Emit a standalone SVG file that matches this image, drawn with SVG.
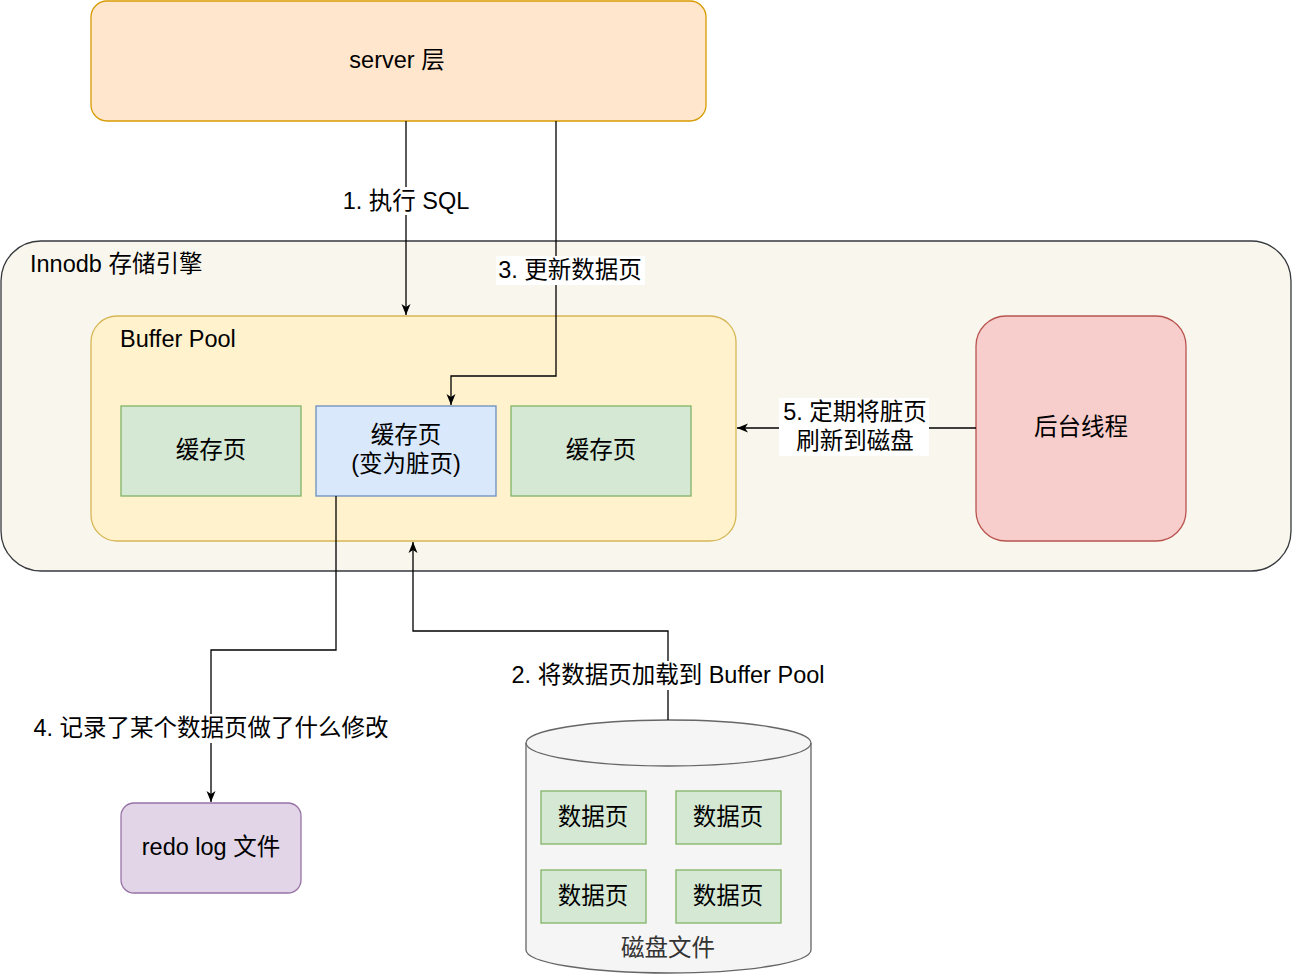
<svg xmlns="http://www.w3.org/2000/svg" width="1292" height="977" viewBox="0 0 1292 977">
<style>
text{font-family:"Liberation Sans","Noto Sans CJK SC",sans-serif;font-size:23.5px;fill:#000;dominant-baseline:central}
.c{text-anchor:middle}
.e{fill:none;stroke:#000;stroke-width:1.3}
.lb{fill:#fff}
.pg{fill:#d5e8d4;stroke:#82b366;stroke-width:1.3}
</style>
<defs>
<marker id="a" markerUnits="userSpaceOnUse" markerWidth="12" markerHeight="12" viewBox="0 0 12 12" refX="11" refY="6" orient="auto">
<path d="M0,1.5 L11,6 L0,10.5 L3,6 Z" fill="#000"/>
</marker>
</defs>
<rect width="1292" height="977" fill="#fff"/>
<g id="innodb">
<rect x="1" y="241" width="1290" height="330" rx="40" fill="#f9f7ed" stroke="#36393d" stroke-width="1.3"/>
<text x="30" y="264">Innodb 存储引擎</text>
</g>
<g id="server">
<rect x="91" y="1" width="615" height="120" rx="16" fill="#ffe6cc" stroke="#d79b00" stroke-width="1.3"/>
<text class="c" x="397" y="60">server 层</text>
</g>
<g id="bufferpool">
<rect x="91" y="316" width="645" height="225" rx="26" fill="#fff2cc" stroke="#d6b656" stroke-width="1.3"/>
<text x="120" y="339">Buffer Pool</text>
</g>
<g id="page1">
<rect class="pg" x="121" y="406" width="180" height="90"/>
<text class="c" x="211" y="450">缓存页</text>
</g>
<g id="page2">
<rect x="316" y="406" width="180" height="90" fill="#dae8fc" stroke="#6c8ebf" stroke-width="1.3"/>
<text class="c" x="406" y="435">缓存页</text>
<text class="c" x="406" y="464">(变为脏页)</text>
</g>
<g id="page3">
<rect class="pg" x="511" y="406" width="180" height="90"/>
<text class="c" x="601" y="450">缓存页</text>
</g>
<g id="thread">
<rect x="976" y="316" width="210" height="225" rx="30" fill="#f8cecc" stroke="#b85450" stroke-width="1.3"/>
<text class="c" x="1081" y="427">后台线程</text>
</g>
<g id="redolog">
<rect x="121" y="803" width="180" height="90" rx="13" fill="#e1d5e7" stroke="#9673a6" stroke-width="1.3"/>
<text class="c" x="211" y="847">redo log 文件</text>
</g>
<g id="disk">
<path d="M526,743 A142.5,23 0 0 1 811,743 L811,950 A142.5,23 0 0 1 526,950 Z" fill="#f5f5f5" stroke="#666" stroke-width="1.3"/>
<path d="M526,743 A142.5,23 0 0 0 811,743" fill="none" stroke="#666" stroke-width="1.3"/>
<text class="c" x="668" y="948" style="fill:#333">磁盘文件</text>
</g>
<g id="dp1"><rect class="pg" x="541" y="791" width="105" height="53"/><text class="c" x="593" y="817">数据页</text></g>
<g id="dp2"><rect class="pg" x="676" y="791" width="105" height="53"/><text class="c" x="728" y="817">数据页</text></g>
<g id="dp3"><rect class="pg" x="541" y="870" width="105" height="53"/><text class="c" x="593" y="896">数据页</text></g>
<g id="dp4"><rect class="pg" x="676" y="870" width="105" height="53"/><text class="c" x="728" y="896">数据页</text></g>
<g id="connectors">
<path class="e" d="M406,121 L406,315" marker-end="url(#a)"/>
<rect class="lb" x="338" y="187" width="136" height="28"/>
<text class="c" x="406" y="201">1. 执行 SQL</text>
<path class="e" d="M556,121 L556,376 L451,376 L451,405" marker-end="url(#a)"/>
<rect class="lb" x="496" y="256" width="149" height="29"/>
<text class="c" x="570" y="270">3. 更新数据页</text>
<path class="e" d="M976,428 L737,428" marker-end="url(#a)"/>
<rect class="lb" x="779" y="398" width="150" height="58"/>
<text class="c" x="855" y="412">5. 定期将脏页</text>
<text class="c" x="855" y="441">刷新到磁盘</text>
<path class="e" d="M668,720 L668,631 L413,631 L413,542" marker-end="url(#a)"/>
<rect class="lb" x="505" y="661" width="326" height="29"/>
<text class="c" x="668" y="675">2. 将数据页加载到 Buffer Pool</text>
<path class="e" d="M336,496 L336,650 L211,650 L211,802" marker-end="url(#a)"/>
<rect class="lb" x="26" y="714" width="370" height="29"/>
<text class="c" x="211" y="728">4. 记录了某个数据页做了什么修改</text>
</g>
</svg>
